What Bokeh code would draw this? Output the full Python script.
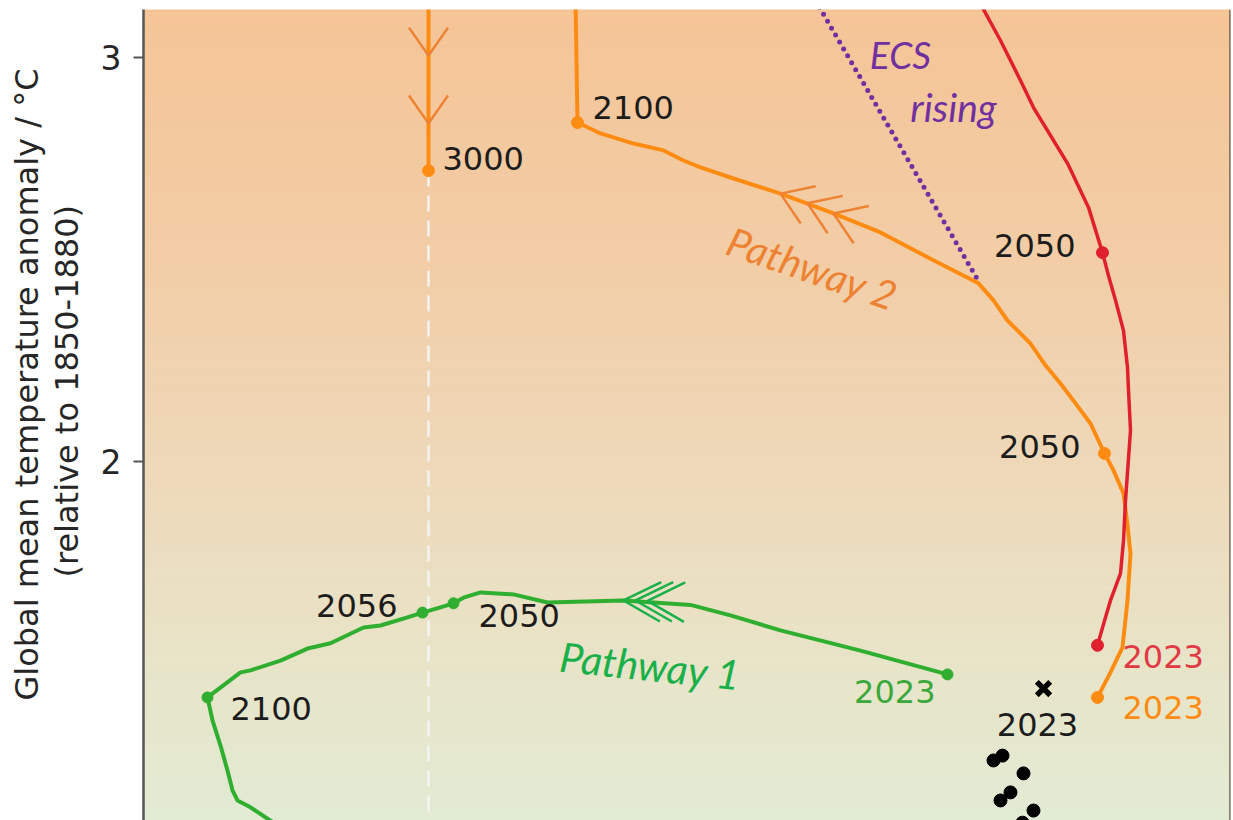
import math
from bokeh.plotting import figure
from bokeh.models import Range1d, FixedTicker, Span, Title
from bokeh.core.properties import value
from bokeh.embed import file_html
from bokeh.resources import INLINE

# ---------------- data ----------------
# x: horizontal quantity (axis not shown in the crop, arbitrary units)
# y: global mean temperature anomaly, degC (relative to 1850-1880)
y_ticks = [2, 3]

# Pathway 2 (orange): 2023 -> 2050 -> 2100 -> (continues upward)
p2_x = [9.54, 9.67, 9.79, 9.84, 9.87, 9.84, 9.80, 9.70, 9.61, 9.47, 9.32, 9.17, 9.02, 8.87,
        8.64, 8.50, 8.35, 7.87, 7.37, 6.90, 6.37, 5.87, 5.57, 5.40, 5.20, 4.90, 4.57, 4.34,
        4.33, 4.32]
p2_y = [1.416, 1.478, 1.540, 1.656, 1.772, 1.842, 1.921, 1.978, 2.020, 2.094, 2.144, 2.193,
        2.238, 2.292, 2.349, 2.399, 2.441, 2.502, 2.567, 2.614, 2.663, 2.703, 2.728, 2.745,
        2.770, 2.787, 2.812, 2.839, 2.993, 3.141]
# Pathway 2 continuation, coming back down to year 3000
p2b_x = [2.85, 2.85]
p2b_y = [3.141, 2.720]
p2_years = ["2023", "2050", "2100", "3000"]
p2_mark_x = [9.54, 9.61, 4.34, 2.85]
p2_mark_y = [1.416, 2.020, 2.839, 2.720]

# Red pathway (current trajectory)
red_x = [9.54, 9.61, 9.67, 9.77, 9.80, 9.82, 9.87, 9.85, 9.84, 9.80, 9.72, 9.65, 9.59, 9.45,
         9.24, 9.07, 8.90, 8.77, 8.57, 8.40, 8.35]
red_y = [1.545, 1.606, 1.656, 1.723, 1.804, 1.903, 2.077, 2.176, 2.233, 2.324, 2.399, 2.460,
         2.517, 2.629, 2.738, 2.807, 2.876, 2.943, 3.042, 3.119, 3.141]
red_years = ["2023", "2050"]
red_mark_x = [9.54, 9.59]
red_mark_y = [1.545, 2.517]

# Pathway 1 (green)
p1_x = [8.04, 7.17, 6.37, 5.87, 5.47, 4.80, 4.04, 3.70, 3.37, 3.20, 3.10, 2.97, 2.79, 2.64,
        2.37, 2.20, 1.87, 1.64, 1.37, 1.07, 0.97, 0.64, 0.69, 0.77, 0.84, 0.89, 0.94, 1.07,
        1.27, 1.42]
p1_y = [1.473, 1.532, 1.582, 1.619, 1.645, 1.656, 1.651, 1.671, 1.676, 1.663, 1.649, 1.639,
        1.626, 1.614, 1.594, 1.589, 1.550, 1.537, 1.507, 1.483, 1.478, 1.416, 1.359, 1.297,
        1.235, 1.186, 1.161, 1.144, 1.111, 1.087]
p1_years = ["2023", "2050", "2056", "2100"]
p1_mark_x = [8.04, 3.10, 2.79, 0.64]
p1_mark_y = [1.473, 1.649, 1.626, 1.416]

# Observations (black dots) and 2023 observed value
obs_x = [8.50, 8.59, 8.80, 8.67, 8.57, 8.90, 8.79]
obs_y = [1.260, 1.272, 1.228, 1.181, 1.161, 1.136, 1.106]
obs23_x = [9.00]
obs23_y = [1.438]

# ECS rising (dotted purple)
ecs_x = [6.72, 8.33]
ecs_y = [3.141, 2.455]

# vertical dashed reference line below year 3000
ref_x = [2.85, 2.85]
ref_y = [2.720, 1.000]

# direction chevrons (tips on the paths)
chev_p2b_x = [2.85, 2.85]
chev_p2b_y = [3.005, 2.837]
chev_p2_x = [6.37, 6.64, 6.90]
chev_p2_y = [2.663, 2.639, 2.614]
chev_p1_x = [4.80, 4.92, 5.04]
chev_p1_y = [1.656, 1.656, 1.655]

# ---------------- figure ----------------
W, H = 1233, 820
ML, MR, MT, MB = 143, 3, 9, 0
X0, X1 = 0.0, 10.87
Y0, Y1 = 1.1114, 3.1188
PX = (W - ML - MR) / (X1 - X0)
PY = (H - MT - MB) / (Y1 - Y0)

p = figure(width=W, height=H, x_range=Range1d(X0, X1), y_range=Range1d(Y0, Y1),
           output_backend="svg", toolbar_location=None, x_axis_location=None,
           min_border_left=ML, min_border_right=MR, min_border_top=MT, min_border_bottom=MB)
p.outline_line_color = None
p.grid.visible = False
p.border_fill_color = "white"

# background gradient (orange at warm end -> pale green)
bg_t = [1.05, 1.50, 2.00, 2.50, 3.20]
bg_rgb = [(225, 236, 214), (232, 228, 200), (238, 216, 184), (242, 205, 166), (245, 195, 148)]


def bg_color(t):
    for i in range(len(bg_t) - 1):
        if bg_t[i] <= t <= bg_t[i + 1]:
            f = (t - bg_t[i]) / (bg_t[i + 1] - bg_t[i])
            c = [round(a + (b - a) * f) for a, b in zip(bg_rgb[i], bg_rgb[i + 1])]
            return "#%02x%02x%02x" % tuple(c)
    return "#%02x%02x%02x" % (bg_rgb[-1] if t > bg_t[-1] else bg_rgb[0])


N = 140
lo, hi = Y0 - 0.02, Y1 + 0.02
edges = [lo + (hi - lo) * i / N for i in range(N + 1)]
cols = [bg_color((edges[i] + edges[i + 1]) / 2) for i in range(N)]
p.quad(left=X0 - 1, right=X1 + 1, bottom=edges[:-1], top=edges[1:],
       fill_color=cols, line_color=cols, line_width=0.8)

ORANGE = "#ff8c12"
RED = "#e0202c"
GREEN = "#2fae2f"
PPT_ORANGE = "#ee8233"
PPT_GREEN = "#19b04a"
PURPLE = "#7030a0"
BLACK = "#1c1c1c"

# dashed white reference line
p.line(ref_x, ref_y, line_color="#f4f4f4", line_width=2.5, line_dash="16 9", line_alpha=0.95)

# ECS rising dotted line
p.line(ecs_x, ecs_y, line_color=PURPLE, line_width=5, line_dash="0 8", line_cap="round")

# paths
p.line(p2_x, p2_y, line_color=ORANGE, line_width=4, line_join="round")
p.line(p2b_x, p2b_y, line_color=ORANGE, line_width=4)
p.line(red_x, red_y, line_color=RED, line_width=3.5, line_join="round")
p.line(p1_x, p1_y, line_color=GREEN, line_width=4, line_join="round")


def chevrons(tx, ty, ang_deg, length, half):
    xs, ys = [], []
    for x, y in zip(tx, ty):
        a1 = math.radians(ang_deg + half)
        a2 = math.radians(ang_deg - half)
        xs.append([x + length * math.cos(a1) / PX, x, x + length * math.cos(a2) / PX])
        ys.append([y - length * math.sin(a1) / PY, y, y - length * math.sin(a2) / PY])
    return xs, ys


cx, cy = chevrons(chev_p2b_x, chev_p2b_y, -90, 34, 35)
p.multi_line(cx, cy, line_color=PPT_ORANGE, line_width=2.5)
cx, cy = chevrons(chev_p2_x, chev_p2_y, 22, 36, 34)
p.multi_line(cx, cy, line_color=PPT_ORANGE, line_width=2.5)
cx, cy = chevrons(chev_p1_x, chev_p1_y, 2, 42, 28)
p.multi_line(cx, cy, line_color=PPT_GREEN, line_width=2.5)

# year markers
p.scatter(p2_mark_x, p2_mark_y, size=12, color=ORANGE)
p.scatter(red_mark_x, red_mark_y, size=12, color=RED)
p.scatter(p1_mark_x, p1_mark_y, size=11, color=GREEN)
p.scatter(obs_x, obs_y, size=13, color="black")
p.scatter(obs23_x, obs23_y, marker="x", size=19, line_width=5.5, color="black")

# year labels (offsets in px from the marker)
FONT = value("DejaVu Sans")


def year_label(x, y, txt, dx, dy, align, color):
    p.text([x], [y], text=[txt], x_offset=dx, y_offset=dy, text_align=align,
           text_baseline="alphabetic", text_font=FONT, text_font_size="32px", text_color=color)


p2_lab = [(25, 10, "left", ORANGE), (-24, -7, "right", BLACK), (15, -15, "left", BLACK), (14, -12, "left", BLACK)]
for x, y, t, (dx, dy, al, c) in zip(p2_mark_x, p2_mark_y, p2_years, p2_lab):
    year_label(x, y, t, dx, dy, al, c)
red_lab = [(25, 11, "left", "#e03a45"), (-27, -7, "right", BLACK)]
for x, y, t, (dx, dy, al, c) in zip(red_mark_x, red_mark_y, red_years, red_lab):
    year_label(x, y, t, dx, dy, al, c)
p1_lab = [(-12, 17, "right", "#3aa83a"), (25, 12, "left", BLACK), (-25, -7, "right", BLACK), (23, 11, "left", BLACK)]
for x, y, t, (dx, dy, al, c) in zip(p1_mark_x, p1_mark_y, p1_years, p1_lab):
    year_label(x, y, t, dx, dy, al, c)
year_label(obs23_x[0], obs23_y[0], "2023", -6, 36, "center", BLACK)

# annotations
ITAL = value("Lato")
p.text([5.07], [1.495], text=["Pathway 1"], angle=math.radians(-6), text_align="center",
       text_baseline="middle", text_font=ITAL, text_font_style="italic", text_font_size="41px",
       text_color=PPT_GREEN)
p.text([6.69], [2.478], text=["Pathway 2"], angle=math.radians(-19), text_align="center",
       text_baseline="middle", text_font=ITAL, text_font_style="italic", text_font_size="40px",
       text_color=PPT_ORANGE)
p.text([7.57], [3.007], text=["ECS"], text_align="center", text_baseline="middle",
       text_font=ITAL, text_font_style="italic", text_font_size="37px", text_color=PURPLE)
p.text([8.10], [2.877], text=["rising"], text_align="center", text_baseline="middle",
       text_font=ITAL, text_font_style="italic", text_font_size="39px", text_color=PURPLE)

# axes
ax = p.yaxis[0]
ax.ticker = FixedTicker(ticks=y_ticks)
ax.major_label_text_font = "DejaVu Sans"
ax.major_label_text_font_size = "33px"
ax.major_label_text_color = "#262626"
ax.major_label_standoff = 12
ax.major_tick_out = 10
ax.major_tick_in = 0
ax.major_tick_line_width = 2
ax.major_tick_line_color = "#555555"
ax.minor_tick_line_color = None
ax.axis_line_width = 2.5
ax.axis_line_color = "#555555"
# thin spacer so the two title lines sit a little away from the tick labels
ax.axis_label = " "
ax.axis_label_text_font_size = "1px"
ax.axis_label_standoff = 8

lab2 = Title(text="(relative to 1850-1880)", align="left", offset=243, standoff=0,
             text_font="DejaVu Sans", text_font_size="32px", text_font_style="normal",
             text_color="#262626")
p.add_layout(lab2, "left")
lab1 = Title(text="Global mean temperature anomaly / °C", align="left", offset=120, standoff=0,
             text_font="DejaVu Sans", text_font_size="32px", text_font_style="normal",
             text_color="#262626")
p.add_layout(lab1, "left")

p.add_layout(Span(location=X1, dimension="height", line_color="#6b5a4c", line_width=2.5))

open("out.html", "w").write(file_html(p, INLINE))
